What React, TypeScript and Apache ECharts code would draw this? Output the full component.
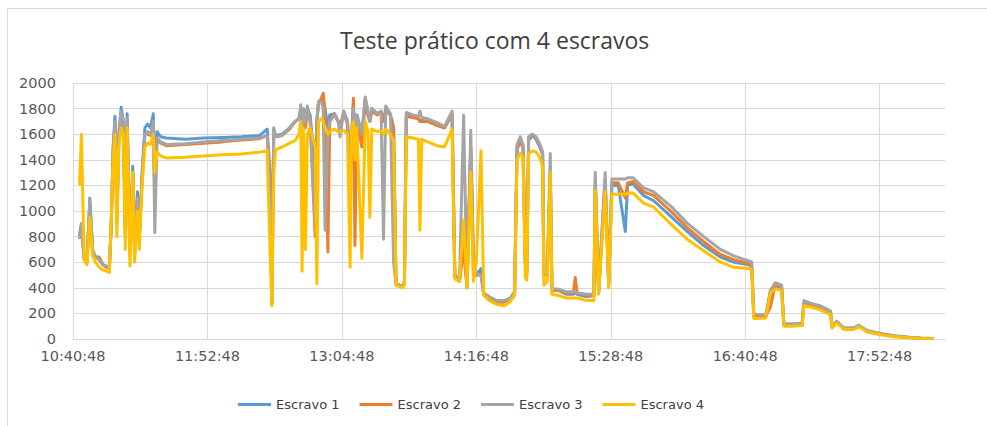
import React, { useEffect, useRef } from "react";
import * as echarts from "echarts";

// minutes elapsed since 10:40:48
const START_SECONDS = 10 * 3600 + 40 * 60 + 48;
const TICK_STEP_MIN = 72;
const X_MAX_MIN = 467;

const SERIES_NAMES = ["Escravo 1", "Escravo 2", "Escravo 3", "Escravo 4"];
const COLORS = ["#5B9BD5", "#ED7D31", "#A5A5A5", "#FFC000"];

const T = [
  3.5, 4.5, 6, 7.5, 9, 10.5, 12, 14, 16, 18,
  19.5, 20.5, 21.5, 22.5, 23.5, 24.5, 25.8, 27, 28, 29,
  30.5, 32, 33, 34.5, 35.5, 37, 38.5, 40, 41.5, 43,
  43.8, 45, 47, 50, 60, 70, 80, 90, 100, 104,
  105.5, 106.5, 107.5, 108.5, 112, 116, 119, 121, 122, 122.7,
  123.5, 124.5, 125.5, 127, 129.7, 130.6, 131.5, 133, 134, 135,
  136.5, 137.5, 140, 142, 143, 145, 147, 148.4, 149.2, 150.2,
  151, 152, 154.7, 156.5, 158, 159, 160, 163, 165, 166.3,
  167.5, 170, 171.7, 173, 176.5, 177.5, 178.5, 182, 185, 185.8,
  186.8, 190, 195, 199, 203, 204.5, 207, 209.2, 211, 213,
  214.5, 216, 218.5, 220, 223, 227, 231, 234, 236.5, 237.8,
  239.5, 241, 242.2, 243, 244, 246, 248, 250, 251.5, 252.2,
  254, 255.6, 256.5, 260, 264, 268, 269, 270, 275, 279,
  279.7, 281.5, 285, 286.9, 288.6, 292, 295.8, 297, 300, 305.7,
  311, 320, 328.9, 337.8, 346.7, 353.9, 362, 363.5, 364.6, 366,
  371, 373.5, 376, 379.5, 380.7, 385, 390.5, 391.4, 395, 400,
  405.7, 406.5, 409, 412.8, 418, 420.9, 425.3, 432.5, 440, 447,
  454, 461,
];

const S1 = [
  820, 900, 640, 600, 1100, 700, 640, 620, 580, 560,
  560, 900, 1500, 1740, 1000, 1600, 1810, 1700, 850, 1760,
  700, 1350, 700, 1150, 800, 1300, 1650, 1680, 1650, 1760,
  1200, 1620, 1580, 1570, 1560, 1570, 1575, 1580, 1590, 1640,
  1300, 280, 1640, 1590, 1600, 1650, 1700, 1720, 1800, 1500,
  1780, 1700, 1800, 1750, 1300, 1700, 1850, 1860, 1880, 1800,
  1650, 1750, 1760, 1700, 1650, 1780, 1700, 1300, 1600, 1850,
  1500, 1750, 1600, 1880, 1750, 1700, 1800, 1760, 1780, 1700,
  1800, 1750, 1650, 430, 410, 440, 1750, 1740, 1720, 1700,
  1700, 1700, 1670, 1650, 1760, 480, 450, 800, 400, 1500,
  600, 500, 550, 350, 320, 290, 290, 310, 360, 1500,
  1560, 1500, 600, 500, 1550, 1590, 1560, 1500, 1440, 500,
  500, 1300, 380, 380, 350, 350, 360, 350, 330, 340,
  1250, 360, 1250, 420, 1200, 1200, 840, 1200, 1210, 1120,
  1080, 960, 840, 730, 640, 600, 580, 560, 180, 170,
  170, 370, 420, 400, 110, 110, 110, 270, 260, 240,
  200, 95, 130, 80, 80, 100, 60, 38, 22, 12,
  6, 3,
];

const S2 = [
  800, 880, 620, 600, 1050, 680, 640, 640, 580, 560,
  560, 900, 1450, 1700, 900, 1500, 1750, 1650, 800, 1700,
  650, 1300, 700, 1100, 780, 1250, 1600, 1600, 1590, 1700,
  1100, 1560, 1530, 1510, 1520, 1530, 1540, 1555, 1565, 1590,
  1200, 280, 1600, 1580, 1590, 1640, 1700, 1720, 1780, 1400,
  1760, 1650, 1780, 1700, 800, 1700, 1850, 1880, 1920, 1750,
  680, 1700, 1760, 1700, 1650, 1760, 1680, 1200, 1500, 1880,
  730, 1700, 1500, 1850, 1750, 1700, 1780, 1750, 1770, 1700,
  1780, 1750, 1650, 430, 410, 440, 1740, 1730, 1720, 1700,
  1710, 1700, 1670, 1650, 1760, 480, 450, 700, 400, 1500,
  500, 500, 500, 350, 320, 290, 290, 310, 360, 1480,
  1540, 1500, 600, 500, 1560, 1600, 1570, 1520, 1450, 500,
  500, 1300, 380, 380, 360, 360, 480, 360, 340, 340,
  1200, 370, 1200, 450, 1220, 1220, 1100, 1220, 1230, 1150,
  1120, 1000, 870, 760, 660, 620, 590, 570, 180, 170,
  180, 250, 420, 400, 110, 110, 115, 280, 265, 245,
  205, 95, 135, 82, 82, 102, 62, 40, 23, 13,
  6, 3,
];

const S3 = [
  780, 900, 620, 600, 1080, 700, 640, 620, 580, 570,
  560, 900, 1500, 1700, 950, 1550, 1780, 1700, 850, 1720,
  700, 1300, 650, 1100, 800, 1250, 1600, 1620, 1600, 1700,
  830, 1570, 1540, 1520, 1525, 1540, 1550, 1560, 1570, 1590,
  1100, 280, 1650, 1580, 1590, 1650, 1700, 1720, 1830, 1500,
  1800, 1700, 1820, 1700, 900, 1700, 1850, 1850, 1800, 850,
  1600, 1700, 1750, 1700, 1580, 1780, 1700, 1300, 1600, 1800,
  1400, 1750, 1600, 1890, 1780, 1700, 1800, 1760, 1780, 780,
  1820, 1760, 600, 430, 410, 440, 1770, 1750, 1740, 1780,
  1730, 1720, 1690, 1660, 1780, 500, 470, 1750, 400, 1630,
  600, 500, 500, 360, 330, 300, 300, 320, 370, 1520,
  1580, 1520, 620, 520, 1580, 1600, 1580, 1520, 1460, 520,
  520, 1450, 390, 390, 370, 370, 370, 360, 350, 350,
  1300, 370, 1300, 420, 1250, 1250, 1250, 1260, 1260, 1180,
  1150, 1040, 905, 800, 700, 650, 610, 600, 200, 190,
  190, 380, 440, 420, 120, 120, 125, 300, 280, 260,
  220, 100, 140, 88, 88, 108, 66, 44, 26, 15,
  8, 4,
];

const S4 = [
  1200, 1600, 620, 580, 950, 650, 600, 560, 540, 530,
  520, 950, 1400, 1600, 800, 1500, 1650, 1600, 700, 1650,
  570, 1300, 600, 1000, 700, 1200, 1500, 1530, 1520, 1600,
  1300, 1460, 1430, 1415, 1420, 1430, 1440, 1445, 1460, 1470,
  700, 260, 1300, 1480, 1500, 1530, 1550, 1600, 1700, 530,
  1650, 700, 1600, 1650, 1500, 430, 1700, 1720, 1700, 1650,
  1600, 1620, 1640, 1620, 1620, 1630, 1600, 560, 1650, 1700,
  1400, 1650, 630, 1700, 1620, 950, 1640, 1620, 1630, 1600,
  1640, 1600, 1550, 420, 400, 420, 1580, 1570, 1560, 850,
  1560, 1540, 1510, 1500, 1640, 470, 450, 930, 400, 1300,
  450, 600, 1470, 340, 300, 270, 260, 290, 340, 1400,
  1450, 1420, 480, 460, 1450, 1470, 1460, 1420, 1340, 420,
  450, 1300, 350, 340, 320, 320, 320, 320, 300, 300,
  1160, 350, 1150, 400, 1130, 1130, 1130, 1140, 1140, 1060,
  1030, 900, 780, 690, 600, 560, 550, 540, 160, 160,
  165, 360, 390, 380, 100, 100, 105, 260, 250, 230,
  190, 85, 125, 75, 75, 95, 55, 33, 18, 10,
  4, 2,
];

const VALUES = [S1, S2, S3, S4];

function pad(n: number) {
  return n < 10 ? "0" + n : String(n);
}

function timeLabel(m: number) {
  if (Math.abs(m % TICK_STEP_MIN) > 1e-6) return "";
  const s = START_SECONDS + Math.round(m * 60);
  const hh = Math.floor(s / 3600);
  const mm = Math.floor((s % 3600) / 60);
  const ss = s % 60;
  return pad(hh) + ":" + pad(mm) + ":" + pad(ss);
}

export default function App() {
  const ref = useRef<HTMLDivElement>(null);

  useEffect(() => {
    if (!ref.current) return;
    const chart = echarts.init(ref.current, null, { renderer: "svg" });
    const labelFont = "DejaVu Sans";
    chart.setOption({
      animation: false,
      backgroundColor: "#FFFFFF",
      title: {
        text: "Teste prático com 4 escravos",
        left: 340,
        top: 28,
        padding: 0,
        textStyle: {
          fontFamily: "Open Sans",
          fontSize: 23,
          fontWeight: "normal",
          color: "#404040",
        },
      },
      graphic: [
        {
          type: "rect",
          shape: { x: 7.5, y: 8.5, width: 1000, height: 1000 },
          style: { fill: "none", stroke: "#D9D9D9", lineWidth: 1 },
          silent: true,
        },
      ],
      legend: {
        left: 233,
        top: 393,
        icon: "rect",
        itemWidth: 33,
        itemHeight: 3,
        itemGap: 20,
        textStyle: { fontFamily: labelFont, fontSize: 13, color: "#404040" },
        data: SERIES_NAMES,
      },
      grid: { left: 73, right: 42, top: 83, bottom: 87, containLabel: false },
      xAxis: {
        type: "value",
        min: 0,
        max: X_MAX_MIN,
        interval: TICK_STEP_MIN,
        axisLine: { show: true, lineStyle: { color: "#D9D9D9", width: 1 } },
        axisTick: { show: false },
        splitLine: {
          show: true,
          showMaxLine: false,
          lineStyle: { color: "#D9D9D9", width: 1 },
        },
        axisLabel: {
          color: "#595959",
          fontFamily: labelFont,
          fontSize: 14.5,
          margin: 9,
          showMaxLabel: false,
          formatter: (v: number) => timeLabel(v),
        },
      },
      yAxis: {
        type: "value",
        min: 0,
        max: 2000,
        interval: 200,
        axisLine: { show: false },
        axisTick: { show: false },
        splitLine: { lineStyle: { color: "#D9D9D9", width: 1 } },
        axisLabel: {
          color: "#595959",
          fontFamily: labelFont,
          fontSize: 14.5,
          margin: 17,
          formatter: (v: number) => String(v),
        },
      },
      series: SERIES_NAMES.map((name, k) => ({
        name,
        type: "line",
        data: T.map((t, i) => [t, VALUES[k][i]]),
        showSymbol: false,
        symbol: "none",
        color: COLORS[k],
        lineStyle: { width: 3, color: COLORS[k], join: "round" },
        emphasis: { disabled: true },
      })),
    });
    return () => chart.dispose();
  }, []);

  return (
    <div
      ref={ref}
      style={{ position: "fixed", left: 0, top: 0, width: 987, height: 426 }}
    />
  );
}
